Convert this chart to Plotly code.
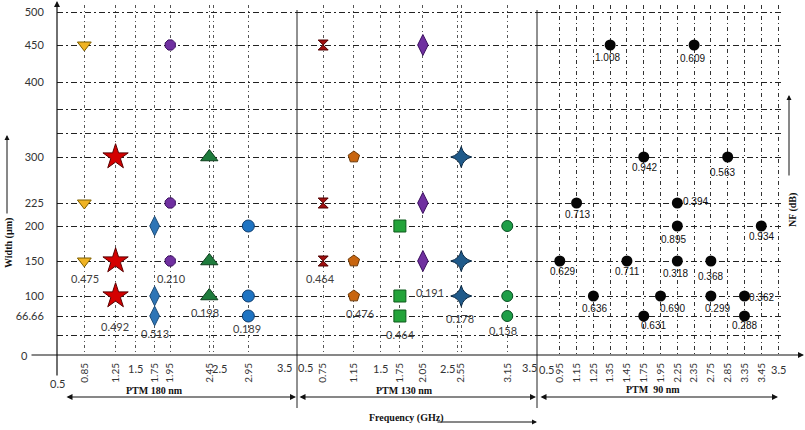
import numpy as np
import plotly.graph_objects as go

# ---------------- data ----------------
P180_FREQ = [0.85, 1.25, 1.75, 1.95, 2.45, 2.95]
P180_WIDTHS = [[450, 225, 150], [300, 150, 100], [200, 100, 66.66],
               [450, 225, 150], [300, 150, 100], [200, 100, 66.66]]
P180_NF = [0.475, 0.492, 0.513, 0.210, 0.198, 0.189]
P180_NF_WIDTH = [150, 100, 66.66, 150, 100, 66.66]

P130_FREQ = [0.75, 1.15, 1.75, 2.05, 2.55, 3.15]
P130_WIDTHS = [[450, 225, 150], [300, 150, 100], [200, 100, 66.66],
               [450, 225, 150], [300, 150, 100], [200, 100, 66.66]]
P130_NF = [0.464, 0.476, 0.464, 0.191, 0.178, 0.158]
P130_NF_WIDTH = [150, 100, 66.66, 150, 100, 66.66]

P90_FREQ = [0.95, 1.15, 1.25, 1.35, 1.45, 1.75, 1.75, 1.95, 2.25,
            2.25, 2.25, 2.35, 2.75, 2.75, 2.85, 3.35, 3.35, 3.45]
P90_WIDTH = [150, 225, 100, 450, 150, 66.66, 300, 100, 225,
             200, 150, 450, 150, 100, 300, 100, 66.66, 200]
P90_NF = [0.629, 0.713, 0.636, 1.008, 0.711, 0.631, 0.942, 0.690, 0.394,
          0.895, 0.318, 0.609, 0.368, 0.299, 0.563, 0.362, 0.288, 0.934]

# tick labels
P180_TICKS = [0.85, 1.25, 1.75, 1.95, 2.45, 2.95]
P130_TICKS = [0.75, 1.15, 1.75, 2.05, 2.55, 3.15]
PLAIN_TICKS = [0.5, 1.5, 2.5, 3.5]
P90_CATS = [0.5, 0.95, 1.15, 1.25, 1.35, 1.45, 1.75, 1.95, 2.25, 2.35,
            2.75, 2.85, 3.35, 3.45, 3.5]
WIDTH_LEVELS = [0, 66.66, 100, 150, 200, 225, 300, 400, 450, 500]
WIDTH_LABELS = ["0", "66.66", "100", "150", "200", "225", "300", "400", "450", "500"]

# ---------------- axis scales (non-linear width axis) ----------------
WIDTH_LEVEL_POS = [0, 39, 59, 94, 129, 152, 198, 273, 310, 343]
EXTRA_GRID_POS = [20, 222, 246]


def wpos(w):
    return np.interp(w, WIDTH_LEVELS, WIDTH_LEVEL_POS)


def cat_idx(f):
    return P90_CATS.index(f)


# ---------------- geometry helpers ----------------
W, H = 805, 430
ML, MR, MT, MB = 57, 0, 5, 75
PW, PH = W - ML - MR, H - MT - MB


def px(x):
    return (x - ML) / PW


def py(y):
    return (H - MB - y) / PH


D1 = px(297)
D2 = px(537)
D3 = px(781)

# ---------------- styles ----------------
S180 = [
    dict(symbol="triangle-down", color="#F0B323", line="#7F6000", size=12),
    dict(symbol="star", color="#D40000", line="#5A0000", size=19),
    dict(symbol="diamond-tall", color="#2E75B6", line="#1F4E79", size=14),
    dict(symbol="octagon", color="#7030A0", line="#3B1060", size=11),
    dict(symbol="triangle-up", color="#1E7B3C", line="#0B3D1A", size=15),
    dict(symbol="circle", color="#1F74C2", line="#0F3D6E", size=12),
]
S130 = [
    dict(symbol="hourglass", color="#A01010", line="#500000", size=10),
    dict(symbol="pentagon", color="#C8650F", line="#6E3A08", size=12),
    dict(symbol="square", color="#23A33A", line="#0E5A1C", size=12),
    dict(symbol="diamond-tall", color="#7030A0", line="#3B1060", size=15),
    dict(symbol="star-diamond", color="#1F5A8A", line="#0B2A45", size=15),
    dict(symbol="circle", color="#1E9E48", line="#0B5024", size=11),
]
L180_SHIFT = [(1, -17), (-1, -30), (0, -17), (1, -17), (-4, -16), (-1, -12)]
L130_SHIFT = [(-3, -17), (6, -17), (1, -18), (7, -31), (-1, -22), (-4, -14)]
L90_SHIFT = [(3, -10), (1, -11), (1, -12), (-3, -12), (1, -10), (10, -9),
             (1, -10), (12, -12), (18, 2), (-4, -13), (-2, -12), (-2, -13),
             (0, -15), (7, -12), (-5, -15), (17, -1), (0, -9), (0, -10)]

LBL_FONT12 = dict(family="Lato, Open Sans, sans-serif", size=11, color="#404040")
LBL_FONT3 = dict(family="Liberation Sans, Arial, sans-serif", size=10, color="#111")
TICK_FONT = dict(family="Lato, Open Sans, sans-serif", size=11, color="#333")
XTICK_FONT = dict(family="Lato, Open Sans, sans-serif", size=10, color="#333")
TITLE_FONT = dict(family="Liberation Serif, Times New Roman, serif", size=10, color="#111")

fig = go.Figure()
annotations = []

for freqs, widths, nfs, nfw, styles, shifts, xa in [
    (P180_FREQ, P180_WIDTHS, P180_NF, P180_NF_WIDTH, S180, L180_SHIFT, "x"),
    (P130_FREQ, P130_WIDTHS, P130_NF, P130_NF_WIDTH, S130, L130_SHIFT, "x2"),
]:
    for f, ws, nf, w_at, st, sh in zip(freqs, widths, nfs, nfw, styles, shifts):
        fig.add_trace(go.Scatter(
            x=[f] * len(ws), y=[wpos(w) for w in ws], xaxis=xa, yaxis="y",
            mode="markers", showlegend=False, cliponaxis=False,
            marker=dict(symbol=st["symbol"], color=st["color"], size=st["size"],
                        line=dict(color=st["line"], width=1)),
        ))
        annotations.append(dict(
            x=f, y=float(wpos(w_at)), xref=xa, yref="y", text=f"{nf:.3f}",
            showarrow=False, xshift=sh[0], yshift=sh[1], font=LBL_FONT12,
            xanchor="center", yanchor="middle"))

fig.add_trace(go.Scatter(
    x=[cat_idx(f) for f in P90_FREQ], y=[wpos(w) for w in P90_WIDTH],
    xaxis="x3", yaxis="y", mode="markers", showlegend=False, cliponaxis=False,
    marker=dict(symbol="circle", color="#050505", size=11),
))
for f, w, nf, sh in zip(P90_FREQ, P90_WIDTH, P90_NF, L90_SHIFT):
    annotations.append(dict(
        x=cat_idx(f), y=float(wpos(w)), xref="x3", yref="y", text=f"{nf:.3f}",
        showarrow=False, xshift=sh[0], yshift=sh[1], font=LBL_FONT3,
        xanchor="center", yanchor="middle"))

# horizontal tick labels (0.5 / 1.5 / 2.5 / 3.5)
PLAIN_SHIFT = {("x", 0.5): (0, -28), ("x", 1.5): (0, -13), ("x", 2.5): (6, -13),
               ("x", 3.5): (-7, -12), ("x2", 0.5): (1, -12), ("x2", 1.5): (0, -13),
               ("x2", 2.5): (-10, -13), ("x2", 3.5): (-5, -12)}
for xa in ["x", "x2"]:
    for t in PLAIN_TICKS:
        xs, ys = PLAIN_SHIFT[(xa, t)]
        annotations.append(dict(x=t, y=0, xref=xa, yref="paper", text=str(t),
                                showarrow=False, xshift=xs, yshift=ys,
                                xanchor="center", yanchor="middle", font=TICK_FONT))
for t, xs in [(0.5, 3), (3.5, 0)]:
    annotations.append(dict(x=cat_idx(t), y=0, xref="x3", yref="paper", text=str(t),
                            showarrow=False, xshift=xs, yshift=-14,
                            xanchor="center", yanchor="middle", font=TICK_FONT))
annotations.append(dict(x=px(24), y=py(355), xref="paper", yref="paper", text="0",
                        showarrow=False, xanchor="center", yanchor="middle",
                        font=TICK_FONT))


# arrows
def arrow(x0, y0, x1, y1, both=False, width=1.2):
    return dict(x=px(x1), y=py(y1), xref="paper", yref="paper", text="",
                showarrow=True, ax=x0 - x1, ay=y0 - y1, axref="pixel", ayref="pixel",
                arrowhead=2, arrowsize=1, arrowwidth=width, arrowcolor="#111",
                arrowside="end+start" if both else "end", standoff=0, startstandoff=0)


annotations += [
    arrow(57, 377, 57, 0),
    arrow(30, 355, 805, 355),
    arrow(7, 215, 7, 135, width=1),
    arrow(789, 177, 789, 95, width=1),
    arrow(65, 397, 296, 397, both=True),
    arrow(298, 397, 536, 397, both=True),
    arrow(539, 397, 778, 397, both=True),
    arrow(436, 422, 537, 422, width=1),
]


def title(x, y, text, angle=0, xanchor="center"):
    return dict(x=px(x), y=py(y), xref="paper", yref="paper", text=f"<b>{text}</b>",
                textangle=angle, showarrow=False, font=TITLE_FONT,
                xanchor=xanchor, yanchor="middle")


annotations += [
    title(9, 243, "Width (µm)", angle=-90),
    title(793, 210, "NF (dB)", angle=-90),
    title(154, 390, "PTM 180 nm"),
    title(404, 390, "PTM 130 nm"),
    title(653, 389, "PTM  90 nm"),
    title(367, 418, "Frequency (GHz)", xanchor="left"),
]

shapes = [
    dict(type="line", xref="paper", yref="paper", x0=px(297), x1=px(297),
         y0=py(10), y1=py(408), line=dict(color="#222", width=1)),
    dict(type="line", xref="paper", yref="paper", x0=px(537), x1=px(537),
         y0=py(10), y1=py(408), line=dict(color="#222", width=1)),
]

VGRID = dict(showgrid=True, gridcolor="#555", gridwidth=1, griddash="3px,3px,1px,3px",
             zeroline=False, showline=False, ticks="outside", ticklen=3,
             tickcolor="rgba(0,0,0,0)", tickangle=-90, tickfont=XTICK_FONT,
             tickmode="array", anchor="y")


def grid_ticks(ticks):
    vals = sorted(ticks + [1.5, 2.5])
    text = [f"{v:g}" if v in ticks else "" for v in vals]
    return vals, text


x1v, x1t = grid_ticks(P180_TICKS)
x2v, x2t = grid_ticks(P130_TICKS)

y_tickvals = list(WIDTH_LEVEL_POS) + EXTRA_GRID_POS
y_ticktext = [("" if l == "0" else l) for l in WIDTH_LABELS] + [""] * len(EXTRA_GRID_POS)

fig.update_layout(
    width=W, height=H,
    margin=dict(l=ML, r=MR, t=MT, b=MB),
    paper_bgcolor="white", plot_bgcolor="white",
    showlegend=False,
    xaxis=dict(domain=[0, D1], range=[0.5, 0.5 + 240 / 78.1],
               tickvals=x1v, ticktext=x1t, **VGRID),
    xaxis2=dict(domain=[D1, D2], range=[0.5 - 7 / 76.7, 0.5 - 7 / 76.7 + 240 / 76.7],
                tickvals=x2v, ticktext=x2t, **VGRID),
    xaxis3=dict(domain=[D2, D3],
                range=[(537 - 543) / 16.79, (781 - 543) / 16.79],
                tickvals=list(range(1, len(P90_CATS))),
                ticktext=[f"{t:g}" for t in P90_CATS[1:-1]] + [""],
                **{**VGRID, "griddash": "4px,3px,1px,3px", "gridcolor": "#333"}),
    yaxis=dict(domain=[0, 1], range=[0, PH], anchor="x",
               tickmode="array", tickvals=y_tickvals, ticktext=y_ticktext,
               showgrid=True, gridcolor="#222", gridwidth=1, griddash="6px,3px,2px,3px",
               zeroline=False, showline=False, ticks="outside", ticklen=10,
               tickcolor="rgba(0,0,0,0)", tickfont=TICK_FONT),
    annotations=annotations,
    shapes=shapes,
)

fig.write_html("out.html")
